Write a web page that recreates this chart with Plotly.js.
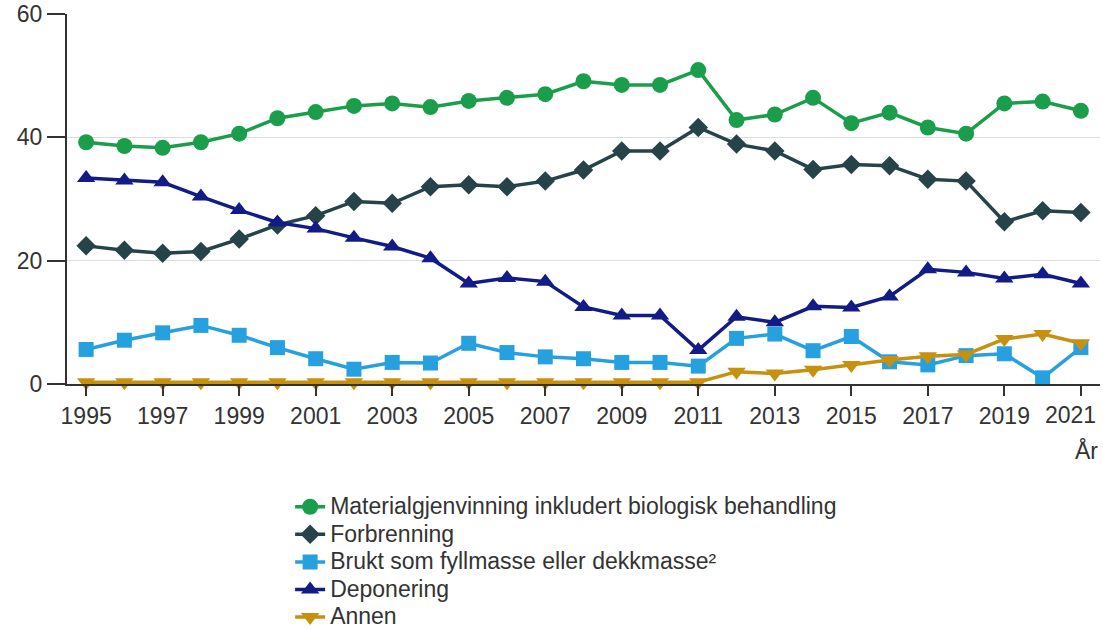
<!DOCTYPE html>
<html>
<head>
<meta charset="utf-8">
<script src="https://cdn.plot.ly/plotly-3.0.1.min.js"></script>
<style>html,body{margin:0;padding:0;background:#fff;}#chart{width:1103px;height:629px;}</style>
</head>
<body>
<div id="chart"></div>
<script>
const years = [1995,1996,1997,1998,1999,2000,2001,2002,2003,2004,2005,2006,2007,2008,2009,2010,2011,2012,2013,2014,2015,2016,2017,2018,2019,2020,2021];
const materialgjenvinning = [39.2,38.6,38.3,39.2,40.6,43.1,44.1,45.1,45.5,44.9,45.9,46.4,47.0,49.1,48.5,48.5,50.9,42.8,43.7,46.4,42.3,44.0,41.6,40.6,45.5,45.8,44.3];
const forbrenning = [22.4,21.7,21.2,21.5,23.5,25.8,27.3,29.6,29.3,32.0,32.3,32.0,32.9,34.7,37.8,37.8,41.6,38.9,37.8,34.8,35.6,35.4,33.2,32.9,26.3,28.1,27.8];
const fyllmasse = [5.6,7.1,8.3,9.5,7.9,5.9,4.1,2.4,3.5,3.4,6.6,5.1,4.4,4.1,3.5,3.5,2.9,7.4,8.1,5.4,7.7,3.6,3.1,4.6,4.9,1.0,5.9];
const deponering = [33.4,33.0,32.7,30.4,28.2,26.2,25.2,23.7,22.3,20.4,16.3,17.2,16.6,12.5,11.1,11.1,5.5,10.9,10.0,12.6,12.4,14.2,18.6,18.1,17.1,17.8,16.3];
const annen = [0.3,0.3,0.3,0.3,0.3,0.3,0.3,0.3,0.3,0.3,0.3,0.3,0.3,0.3,0.3,0.3,0.3,2.0,1.7,2.3,3.1,3.9,4.5,4.8,7.3,8.1,6.6];
const seriesNames = ["Materialgjenvinning inkludert biologisk behandling","Forbrenning","Brukt som fyllmasse eller dekkmasse²","Deponering","Annen"];
const xTickYears = [1995,1997,1999,2001,2003,2005,2007,2009,2011,2013,2015,2017,2019,2021];
const xTickLabels = ["1995","1997","1999","2001","2003","2005","2007","2009","2011","2013","2015","2017","2019",""];
const lastTickYear = 2021;
const lastTickLabel = "2021";
const xAxisLabel = "År";

const colors = ["#1b9e4b","#264349","#27a0e0","#121b86","#c8900f"];
const symbols = ["circle","diamond","square","triangle-up","triangle-down"];
const sizes = [16,15,15,16,16];
const data = [materialgjenvinning, forbrenning, fyllmasse, deponering, annen];

const fs = 23;
const traces = data.map((d,i)=>({
  x: years, y: d, name: '<span style="font-size:'+fs+'px">'+seriesNames[i]+'</span>', type:'scatter', mode:'lines+markers',
  line:{color:colors[i], width:3.5},
  marker:{color:colors[i], symbol:symbols[i], size:sizes[i]},
  cliponaxis:false
}));

const font = "Liberation Sans, Arial, sans-serif";
const layout = {
  width:1103, height:629,
  margin:{l:67, r:3, t:14, b:245, autoexpand:false},
  paper_bgcolor:'#fff', plot_bgcolor:'#fff',
  font:{family:font, size:fs, color:'#333'},
  showlegend:true,
  legend:{x:0.216, y:-0.281, xanchor:'left', yanchor:'top', font:{size:18.9, color:'#333'}, tracegroupgap:0, itemwidth:30, bgcolor:'rgba(0,0,0,0)'},
  xaxis:{range:[1994.5,2021.5], tickmode:'array', tickvals:xTickYears, ticktext:xTickLabels, ticks:'outside', ticklen:10, tickwidth:2, tickcolor:'#333',
    showline:true, linecolor:'#333', linewidth:2, showgrid:false, zeroline:false, tickfont:{size:fs,color:'#333'},
    automargin:false, fixedrange:true},
  yaxis:{range:[0,60], dtick:20, ticks:'outside', ticklen:18, tickwidth:2, tickcolor:'#333',
    showline:true, linecolor:'#333', linewidth:2, showgrid:true, gridcolor:'#dddddd', gridwidth:1, zeroline:false,
    tickfont:{size:fs,color:'#333'}, automargin:false, fixedrange:true},
  annotations:[
    {text:lastTickLabel, xref:'x', yref:'paper', x:lastTickYear, y:-0.084, xanchor:'center', yanchor:'middle', xshift:-10, showarrow:false, font:{size:fs,color:'#333'}},
    {text:xAxisLabel, xref:'paper', yref:'paper', x:1, y:-0.181, xanchor:'right', yanchor:'middle', showarrow:false, font:{size:fs,color:'#333'}}
  ]
};
Plotly.newPlot('chart', traces, layout, {displayModeBar:false, staticPlot:true});
</script>
</body>
</html>
